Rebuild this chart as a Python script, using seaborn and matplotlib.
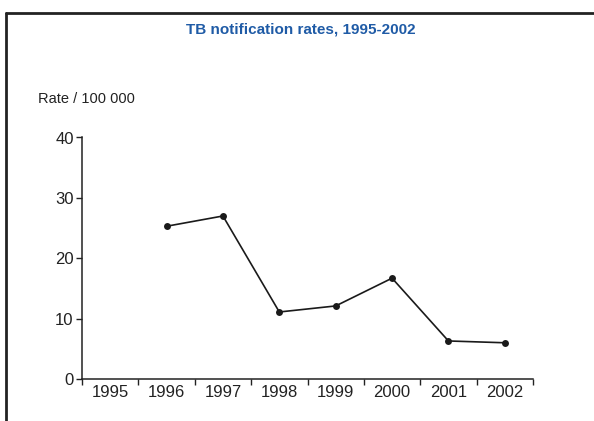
import numpy as np
import pandas as pd
import matplotlib
matplotlib.use("Agg")
import matplotlib.pyplot as plt
from matplotlib.lines import Line2D
import seaborn as sns

# Datos
years = [1995, 1996, 1997, 1998, 1999, 2000, 2001, 2002]
rates = [np.nan, 25.3, 27.0, 11.1, 12.1, 16.7, 6.3, 6.0]
y_ticks = [0, 10, 20, 30, 40]

sns.set_style("white")
plt.rcParams['font.family'] = ['Liberation Sans', 'DejaVu Sans']

df = pd.DataFrame({'year': years, 'rate': rates}).dropna()

fig = plt.figure(figsize=(5.94, 4.21), dpi=100)
ax = fig.add_axes([82 / 594, 42 / 421, (533 - 82) / 594, (379 - 137.5) / 421])

sns.lineplot(data=df, x='year', y='rate', ax=ax, color='#1a1a1a', linewidth=1.2,
             marker='o', markersize=5, markeredgewidth=0)

ax.set_xlim(years[0] - 0.5, years[-1] + 0.5)
ax.set_ylim(0, 40)
ax.set_yticks(y_ticks)
ax.set_xticks(years)
ax.set_xticklabels([str(y) for y in years])
ax.set_xticks([y - 0.5 for y in years] + [years[-1] + 0.5], minor=True)
ax.tick_params(axis='x', which='major', bottom=False, length=0, pad=4, labelsize=12,
               colors='#222222')
ax.tick_params(axis='x', which='minor', bottom=True, length=4, width=1, color='#222222',
               direction='out')
ax.tick_params(axis='y', left=True, length=4, width=1, color='#222222', direction='out',
               labelsize=12, labelcolor='#222222', pad=2)
ax.set_xlabel('')
ax.set_ylabel('')
for side in ['top', 'right']:
    ax.spines[side].set_visible(False)
for side in ['left', 'bottom']:
    ax.spines[side].set_color('#222222')
    ax.spines[side].set_linewidth(1.1)

fig.text(301 / 594, 1 - 29 / 421, 'TB notification rates, 1995-2002', ha='center', va='center',
         fontsize=11, fontweight='bold', color='#1f5ba6')
fig.text(38 / 594, 1 - 99 / 421, 'Rate / 100 000', ha='left', va='center',
         fontsize=10.5, color='#222222')

# marco exterior
fig.add_artist(Line2D([6 / 594, 6 / 594], [0, 1 - 13 / 421], transform=fig.transFigure,
                      color='#222222', linewidth=2))
fig.add_artist(Line2D([6 / 594, 1], [1 - 13 / 421, 1 - 13 / 421], transform=fig.transFigure,
                      color='#222222', linewidth=2))

fig.savefig('out.png', dpi=100)
